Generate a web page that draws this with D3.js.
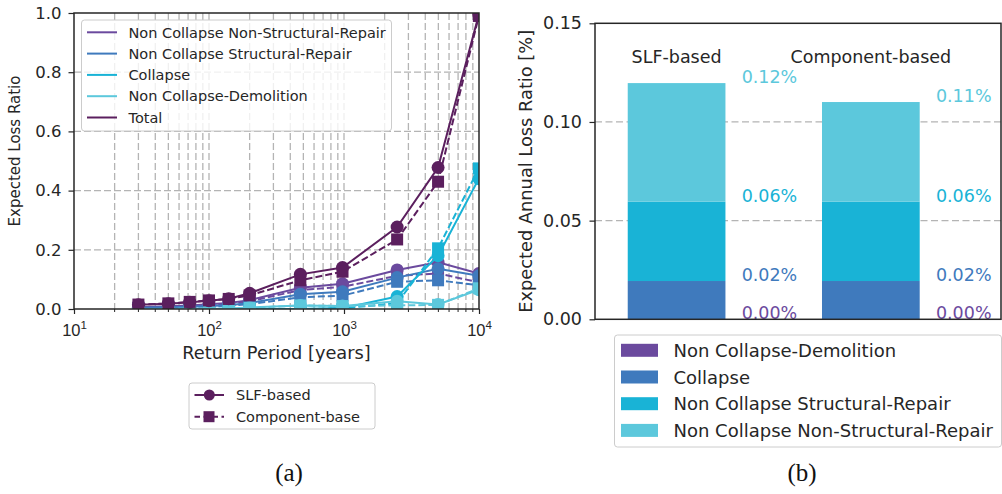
<!DOCTYPE html>
<html>
<head>
<meta charset="utf-8">
<script src="https://cdn.jsdelivr.net/npm/d3@7"></script>
<style>
  body { margin: 0; background: #fff; }
  svg { display: block; font-family: "DejaVu Sans", sans-serif; }
</style>
</head>
<body>
<script>
// ---- (a) expected loss ratio vs return period ----
const returnPeriods = [30, 50, 72, 100, 140, 200, 475, 975, 2475, 4975, 9975];

const lossSeries = ["Non Collapse Non-Structural-Repair", "Non Collapse Structural-Repair", "Collapse", "Non Collapse-Demolition", "Total"];
const lossColors = ["#6b4a9e", "#3f7abd", "#19b3d6", "#5cc8dc", "#5b1f5e"];

// SLF-based estimates
const slfNonStructural = [0.006, 0.009, 0.012, 0.016, 0.020, 0.030, 0.072, 0.085, 0.132, 0.158, 0.120];
const slfStructural    = [0.004, 0.006, 0.008, 0.010, 0.013, 0.020, 0.050, 0.058, 0.106, 0.136, 0.112];
const slfCollapse      = [0.000, 0.000, 0.000, 0.000, 0.000, 0.000, 0.000, 0.003, 0.042, 0.180, 0.440];
const slfDemolition    = [0.000, 0.000, 0.001, 0.001, 0.002, 0.005, 0.012, 0.010, 0.026, 0.015, 0.065];
const slfTotal         = [0.014, 0.018, 0.023, 0.028, 0.035, 0.053, 0.117, 0.140, 0.277, 0.478, 0.995];

// Component-based estimates
const compNonStructural = [0.005, 0.008, 0.011, 0.014, 0.018, 0.026, 0.064, 0.075, 0.112, 0.120, 0.090];
const compStructural    = [0.003, 0.005, 0.007, 0.009, 0.011, 0.016, 0.040, 0.045, 0.092, 0.097, 0.080];
const compCollapse      = [0.000, 0.000, 0.000, 0.000, 0.000, 0.000, 0.000, 0.002, 0.020, 0.205, 0.475];
const compDemolition    = [0.000, 0.000, 0.001, 0.001, 0.002, 0.004, 0.012, 0.010, 0.012, 0.014, 0.070];
const compTotal         = [0.015, 0.019, 0.024, 0.029, 0.034, 0.046, 0.097, 0.126, 0.235, 0.430, 0.990];

const slfValues  = [slfNonStructural, slfStructural, slfCollapse, slfDemolition, slfTotal];
const compValues = [compNonStructural, compStructural, compCollapse, compDemolition, compTotal];

const methodLabels = ["SLF-based", "Component-base"];
const lossTicks = [0, 0.2, 0.4, 0.6, 0.8, 1.0];
const periodMajorTicks = [10, 100, 1000, 10000];

// ---- (b) expected annual loss ratio ----
const ealMethods = ["SLF-based", "Component-based"];
const ealComponents = ["Non Collapse-Demolition", "Collapse", "Non Collapse Structural-Repair", "Non Collapse Non-Structural-Repair"];
const ealColors = ["#6b4a9e", "#3f7abd", "#19b3d6", "#5cc8dc"];
const ealSlf  = [0.0000, 0.0194, 0.0402, 0.0601];
const ealComp = [0.0000, 0.0194, 0.0402, 0.0505];
const ealTicks = [0, 0.05, 0.10, 0.15];

const textColor = "#262626";
const gridColor = "#b4b4b4";

const svg = d3.select("body").append("svg")
  .attr("width", 1002).attr("height", 494);

svg.append("rect").attr("width", 1002).attr("height", 494).attr("fill", "#fff");

// ================= Panel (a) =================
const A = { left: 74, right: 479, top: 13, bottom: 309 };
const x = d3.scaleLog().domain([10, 10000]).range([A.left, A.right]);
const y = d3.scaleLinear().domain([0, 1]).range([A.bottom, A.top]);

const gA = svg.append("g");

// grid
const allPeriodTicks = x.ticks().filter(t => t > 10 && t < 10000);
gA.append("g").selectAll("line").data(allPeriodTicks).join("line")
  .attr("x1", d => x(d)).attr("x2", d => x(d))
  .attr("y1", A.top).attr("y2", A.bottom)
  .attr("stroke", gridColor).attr("stroke-width", 1.3).attr("stroke-dasharray", "7,3");
gA.append("g").selectAll("line").data(lossTicks.filter(t => t > 0 && t < 1)).join("line")
  .attr("x1", A.left).attr("x2", A.right)
  .attr("y1", d => y(d)).attr("y2", d => y(d))
  .attr("stroke", gridColor).attr("stroke-width", 1.3).attr("stroke-dasharray", "7,3");

// clip
svg.append("defs").append("clipPath").attr("id", "clipA")
  .append("rect").attr("x", A.left).attr("y", A.top)
  .attr("width", A.right - A.left).attr("height", A.bottom - A.top);

const plotA = gA.append("g").attr("clip-path", "url(#clipA)");
const line = d3.line().x((d, i) => x(returnPeriods[i])).y(d => y(d));

lossSeries.forEach((name, k) => {
  const col = lossColors[k];
  // SLF-based: solid line with circles
  plotA.append("path").datum(slfValues[k])
    .attr("d", line).attr("fill", "none").attr("stroke", col).attr("stroke-width", 2);
  plotA.append("g").selectAll("circle").data(slfValues[k]).join("circle")
    .attr("cx", (d, i) => x(returnPeriods[i])).attr("cy", d => y(d))
    .attr("r", 6.5).attr("fill", col);
  // Component-based: dashed line with squares
  plotA.append("path").datum(compValues[k])
    .attr("d", line).attr("fill", "none").attr("stroke", col).attr("stroke-width", 2)
    .attr("stroke-dasharray", "7,3");
  plotA.append("g").selectAll("rect").data(compValues[k]).join("rect")
    .attr("x", (d, i) => x(returnPeriods[i]) - 6).attr("y", d => y(d) - 6)
    .attr("width", 12).attr("height", 12).attr("fill", col);
});

// axes
const xAxis = d3.axisBottom(x).tickValues(periodMajorTicks).tickSize(5).tickSizeOuter(0).tickFormat(() => "");
const xAxisG = gA.append("g").attr("transform", `translate(0,${A.bottom})`).call(xAxis);
xAxisG.select(".domain").remove();
xAxisG.selectAll(".tick line").attr("stroke", textColor).attr("stroke-width", 1.2);
xAxisG.selectAll(".tick").each(function (d) {
  const t = d3.select(this).append("text")
    .attr("y", 27).attr("fill", textColor).attr("text-anchor", "middle")
    .style("font-size", "16.5px");
  t.append("tspan").text("10");
  t.append("tspan").attr("dy", -7).style("font-size", "11.5px").text(Math.round(Math.log10(d)));
});
const minorTicks = x.ticks().filter(t => !periodMajorTicks.includes(t));
gA.append("g").selectAll("line").data(minorTicks).join("line")
  .attr("x1", d => x(d)).attr("x2", d => x(d))
  .attr("y1", A.bottom).attr("y2", A.bottom + 3)
  .attr("stroke", textColor).attr("stroke-width", 1);

const yAxis = d3.axisLeft(y).tickValues(lossTicks).tickSize(5.5).tickSizeOuter(0).tickFormat(d3.format(".1f"));
const yAxisG = gA.append("g").attr("transform", `translate(${A.left},0)`).call(yAxis);
yAxisG.select(".domain").remove();
yAxisG.selectAll(".tick line").attr("stroke", textColor).attr("stroke-width", 1.2);
yAxisG.selectAll(".tick text").attr("fill", textColor).style("font-size", "16.5px")
  .attr("x", -12.5).attr("font-family", "DejaVu Sans");

// spines
gA.append("rect").attr("x", A.left).attr("y", A.top)
  .attr("width", A.right - A.left).attr("height", A.bottom - A.top)
  .attr("fill", "none").attr("stroke", textColor).attr("stroke-width", 1.5);

// axis titles
gA.append("text").attr("x", (A.left + A.right) / 2).attr("y", 359)
  .attr("text-anchor", "middle").attr("fill", textColor).style("font-size", "17.8px")
  .text("Return Period [years]");
gA.append("text").attr("transform", "translate(20,151) rotate(-90)")
  .attr("text-anchor", "middle").attr("fill", textColor).style("font-size", "15px")
  .text("Expected Loss Ratio");

// series legend
const legA = gA.append("g");
legA.append("rect").attr("x", 81.5).attr("y", 20).attr("width", 310).attr("height", 111)
  .attr("rx", 3).attr("fill", "#fff").attr("fill-opacity", 0.8)
  .attr("stroke", "#cccccc").attr("stroke-width", 1);
lossSeries.forEach((name, k) => {
  const cy = 32.3 + k * 21.3;
  legA.append("line").attr("x1", 87).attr("x2", 117).attr("y1", cy).attr("y2", cy)
    .attr("stroke", lossColors[k]).attr("stroke-width", 2);
  legA.append("text").attr("x", 128.5).attr("y", cy + 5.2).attr("fill", textColor)
    .style("font-size", "14.5px").text(name);
});

// method legend
const legM = svg.append("g");
legM.append("rect").attr("x", 189).attr("y", 383).attr("width", 186).attr("height", 46)
  .attr("rx", 3).attr("fill", "#fff").attr("stroke", "#cccccc").attr("stroke-width", 1);
methodLabels.forEach((name, k) => {
  const cy = 395 + k * 21.7;
  const col = lossColors[4];
  const ln = legM.append("line").attr("x1", 194.5).attr("x2", 224).attr("y1", cy).attr("y2", cy)
    .attr("stroke", col).attr("stroke-width", 2);
  if (k === 1) {
    ln.attr("stroke-dasharray", "5.5,3.5");
    legM.append("rect").attr("x", 203.5).attr("y", cy - 5.5).attr("width", 11).attr("height", 11).attr("fill", col);
  } else {
    legM.append("circle").attr("cx", 209.3).attr("cy", cy).attr("r", 5.5).attr("fill", col);
  }
  legM.append("text").attr("x", 236).attr("y", cy + 5.2).attr("fill", textColor)
    .style("font-size", "14.5px").text(name);
});

// ================= Panel (b) =================
const B = { left: 595, right: 1001, top: 23.3, bottom: 319.3 };
const x2 = d3.scaleLinear().domain([-0.42, 1.67]).range([B.left, B.right]);
const y2 = d3.scaleLinear().domain([0, 0.15]).range([B.bottom, B.top]);
const barWidth = 0.503;

const gB = svg.append("g");

gB.append("g").selectAll("line").data(ealTicks.filter(t => t > 0 && t < 0.15)).join("line")
  .attr("x1", B.left).attr("x2", B.right)
  .attr("y1", d => y2(d)).attr("y2", d => y2(d))
  .attr("stroke", gridColor).attr("stroke-width", 1.3).attr("stroke-dasharray", "7,3.5");

const ealTable = ealMethods.map((m, i) => {
  const row = { method: m, index: i };
  const vals = i === 0 ? ealSlf : ealComp;
  ealComponents.forEach((c, j) => { row[c] = vals[j]; });
  return row;
});
const stacked = d3.stack().keys(ealComponents)(ealTable);

stacked.forEach((layer, j) => {
  gB.append("g").selectAll("rect").data(layer).join("rect")
    .attr("x", d => x2(d.data.index - barWidth / 2))
    .attr("width", d => x2(barWidth) - x2(0))
    .attr("y", d => y2(d[1]))
    .attr("height", d => y2(d[0]) - y2(d[1]))
    .attr("fill", ealColors[j]);
  gB.append("g").selectAll("text").data(layer).join("text")
    .attr("x", d => x2(d.data.index + 0.335))
    .attr("y", d => y2(d[1]))
    .attr("fill", ealColors[j]).style("font-size", "17.5px")
    .text(d => d[1].toFixed(2) + "%");
});

// method titles
gB.append("g").selectAll("text").data(ealMethods).join("text")
  .attr("x", (d, i) => x2(i)).attr("y", y2(0.13))
  .attr("text-anchor", "middle").attr("fill", textColor).style("font-size", "17.5px")
  .text(d => d);

const yAxis2 = d3.axisLeft(y2).tickValues(ealTicks).tickSize(5.5).tickSizeOuter(0).tickFormat(d3.format(".2f"));
const yAxis2G = gB.append("g").attr("transform", `translate(${B.left},0)`).call(yAxis2);
yAxis2G.select(".domain").remove();
yAxis2G.selectAll(".tick line").attr("stroke", textColor).attr("stroke-width", 1.2);
yAxis2G.selectAll(".tick text").attr("fill", textColor).style("font-size", "17.5px")
  .attr("x", -13).attr("font-family", "DejaVu Sans");

gB.append("rect").attr("x", B.left).attr("y", B.top)
  .attr("width", B.right - B.left).attr("height", B.bottom - B.top)
  .attr("fill", "none").attr("stroke", textColor).attr("stroke-width", 1.5);

gB.append("text").attr("transform", `translate(532,${(B.top + B.bottom) / 2}) rotate(-90)`)
  .attr("text-anchor", "middle").attr("fill", textColor).style("font-size", "17.8px")
  .text("Expected Annual Loss Ratio [%]");

// component legend
const legB = gB.append("g");
legB.append("rect").attr("x", 614.5).attr("y", 335).attr("width", 387).attr("height", 112)
  .attr("rx", 3).attr("fill", "#fff").attr("stroke", "#cccccc").attr("stroke-width", 1);
ealComponents.forEach((name, j) => {
  const cy = 350.3 + j * 26.7;
  legB.append("rect").attr("x", 621).attr("y", cy - 6.5).attr("width", 37).attr("height", 13)
    .attr("fill", ealColors[j]);
  legB.append("text").attr("x", 673.5).attr("y", cy + 6.5).attr("fill", textColor)
    .style("font-size", "18px").text(name);
});

// panel captions
svg.append("g").selectAll("text").data(["(a)", "(b)"]).join("text")
  .attr("x", (d, i) => i === 0 ? 289 : 802).attr("y", 481)
  .attr("text-anchor", "middle").attr("fill", "#111")
  .style("font-family", "'Liberation Serif', serif").style("font-size", "25px")
  .text(d => d);
</script>
</body>
</html>
